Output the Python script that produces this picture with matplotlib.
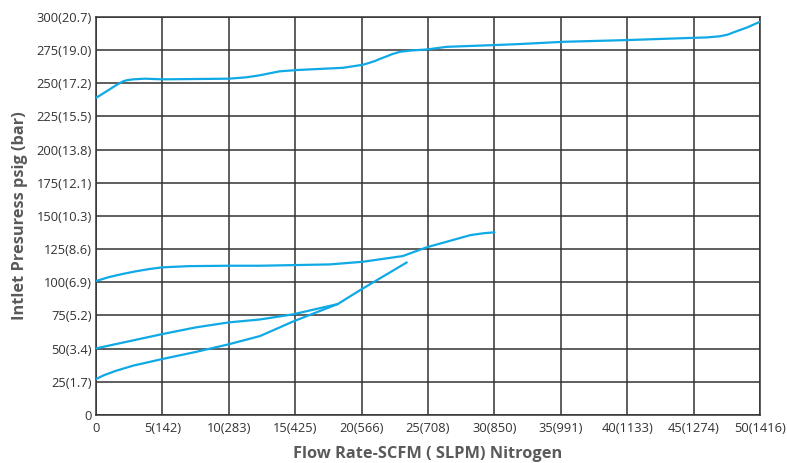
import matplotlib.pyplot as plt

# flow rate (SCFM) vs inlet pressure (psig)
top_x = [0, 1, 1.5, 2, 2.3, 2.8, 3.7, 5, 10, 11.3, 12.3, 13.8, 15.1, 18.6,
         20.1, 20.6, 21, 21.4, 21.8, 22.3, 22.9, 23.8, 24.9, 26.4, 29.9,
         31.9, 35.2, 40, 45, 46, 47, 47.6, 48, 49, 50]
top_y = [239, 245.3, 248.5, 251.3, 252.3, 253, 253.5, 253, 253.5, 254.5, 256,
         259, 260, 261.7, 264, 265.5, 266.8, 268.5, 270, 272, 273.8, 274.8,
         275.5, 277.5, 278.8, 279.6, 281.3, 282.6, 284.3, 284.6, 285.5, 286.8,
         288.4, 292, 296.4]

mid_x = [0, 1, 2, 3, 4, 5, 7, 10, 12.35, 17.6, 20.1, 23.1, 24.9, 28.2, 29.2, 30]
mid_y = [101, 104, 106.3, 108.3, 110, 111.3, 112.2, 112.5, 112.5, 113.5,
         115.5, 119.8, 126.4, 135.6, 137, 137.7]

low_a_x = [0, 5, 7.5, 10, 12.35, 14.8, 18.2]
low_a_y = [50.2, 61, 66, 69.8, 72, 75.8, 83.6]

low_b_x = [0, 0.6, 1.5, 2.8, 5, 7.5, 10, 12.35, 14.8, 16.5, 18.2, 19.9, 23.4]
low_b_y = [27.1, 30, 33.3, 37.2, 42.2, 47.5, 53.3, 59.5, 70.3, 77, 83.6, 94.2, 115]

x_ticks = [0, 5, 10, 15, 20, 25, 30, 35, 40, 45, 50]
x_labels = ["0", "5(142)", "10(283)", "15(425)", "20(566)", "25(708)",
            "30(850)", "35(991)", "40(1133)", "45(1274)", "50(1416)"]
y_ticks = [0, 25, 50, 75, 100, 125, 150, 175, 200, 225, 250, 275, 300]
y_labels = ["0", "25(1.7)", "50(3.4)", "75(5.2)", "100(6.9)", "125(8.6)",
            "150(10.3)", "175(12.1)", "200(13.8)", "225(15.5)", "250(17.2)",
            "275(19.0)", "300(20.7)"]

plt.rcParams["font.family"] = ["Open Sans", "DejaVu Sans"]

fig = plt.figure(figsize=(7.87, 4.63), dpi=100)
ax = fig.add_axes([0.122, 0.1037, 0.8437, 0.8596])

blue = "#0fa9e6"
for xs, ys in [(top_x, top_y), (mid_x, mid_y), (low_a_x, low_a_y), (low_b_x, low_b_y)]:
    ax.plot(xs, ys, color=blue, lw=1.6, zorder=3,
            solid_capstyle="round", solid_joinstyle="round")

ax.set_xlim(0, 50)
ax.set_ylim(0, 300)
ax.set_xticks(x_ticks)
ax.set_xticklabels(x_labels)
ax.set_yticks(y_ticks)
ax.set_yticklabels(y_labels)
ax.tick_params(length=0, labelsize=9.3, labelcolor="#333333", pad=3)
ax.tick_params(axis="x", pad=5)
ax.grid(True, color="#333333", lw=1.1)
for s in ax.spines.values():
    s.set_color("#333333")
    s.set_linewidth(1.1)

ax.set_xlabel("Flow Rate-SCFM ( SLPM) Nitrogen", fontsize=11.8,
              fontweight="bold", color="#5a5a5a", labelpad=8)
ax.set_ylabel("Intlet Presuress psig (bar)", fontsize=11.8,
              fontweight="bold", color="#5a5a5a", labelpad=6)

fig.savefig("out.png", dpi=100)
